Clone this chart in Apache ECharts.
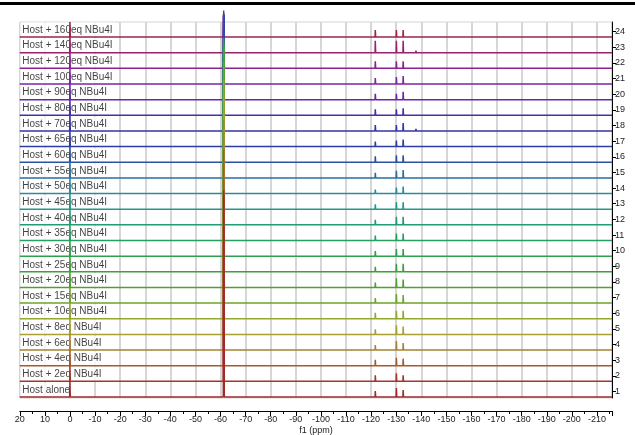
<!DOCTYPE html>
<html><head><meta charset="utf-8">
<script src="https://cdn.jsdelivr.net/npm/echarts@6/dist/echarts.min.js"></script>
<style>html,body{margin:0;padding:0;background:#fff}#c{width:635px;height:435px}</style>
</head><body><div id="c"></div>
<script>
// rows from bottom (1) to top (24)
const traceLabels = ['Host alone','Host + 2eq NBu4I','Host + 4eq NBu4I','Host + 6eq NBu4I','Host + 8eq NBu4I',
 'Host + 10eq NBu4I','Host + 15eq NBu4I','Host + 20eq NBu4I','Host + 25eq NBu4I','Host + 30eq NBu4I',
 'Host + 35eq NBu4I','Host + 40eq NBu4I','Host + 45eq NBu4I','Host + 50eq NBu4I','Host + 55eq NBu4I',
 'Host + 60eq NBu4I','Host + 65eq NBu4I','Host + 70eq NBu4I','Host + 80eq NBu4I','Host + 90eq NBu4I',
 'Host + 100eq NBu4I','Host + 120eq NBu4I','Host + 140eq NBu4I','Host + 160eq NBu4I'];
const stackTicks = [1,2,3,4,5,6,7,8,9,10,11,12,13,14,15,16,17,18,19,20,21,22,23,24];
const traceColors = ['#9e2a2b','#a3362a','#a65a2c','#a88232','#a8a032','#93a82c','#6ea428','#4ea030','#3ca03c','#2ea04c',
 '#26a060','#229c72','#229a8a','#2a8aa0','#2a6ea0','#2a52a2','#2c3ea4','#3434a8','#4a2ca8','#6428a8',
 '#7e26a2','#8c2290','#9a2070','#9c2450'];
// peak chemical shifts (ppm)
const shiftRef = 0;
const shiftA = -61.3;
const shiftB = -121.7;
const shiftC = -130.1;
const shiftD = -132.8;
const shiftE = -137.9;
// peak intensities, in units of trace spacing
const hRef = [1,1,1,1,1,1,1,1,1,1,1,1,1,1,1,1,1,1,1,1,1,1,1,0.96];
const hA = [13.2,11.9,13.8,14.7,15.2,15.3,15.4,15.3,14.9,13.7,12.5,11.5,10.5,9.5,8.5,9.7,8.4,7.4,6.4,5.4,4.4,3.4,2.5,1.5];
const hB = [0.38,0.38,0.38,0.32,0.32,0.38,0.32,0.32,0.32,0.32,0.32,0.32,0.32,0.26,0.32,0.38,0.32,0.38,0.38,0.38,0.38,0.45,0.77,0.45];
const hC = [0.58,0.51,0.51,0.58,0.58,0.51,0.58,0.58,0.51,0.45,0.45,0.51,0.45,0.38,0.45,0.45,0.38,0.38,0.38,0.38,0.45,0.45,0.77,0.45];
const hD = [0.45,0.38,0.45,0.45,0.51,0.51,0.51,0.51,0.51,0.45,0.45,0.51,0.45,0.45,0.51,0.45,0.45,0.51,0.45,0.51,0.51,0.45,0.77,0.45];
const hE = [0,0,0.1,0,0,0,0,0,0,0,0,0,0,0,0,0,0,0.13,0,0,0,0,0.13,0];

const X_MAX = 20, X_MIN = -216;
const BASE_SHIFT = 0.35; // baseline sits below its stack number

function peak(arr, c, h, b, w) {
  arr.push([c + w, b], [c + w/4, b + h], [c - w/4, b + h], [c - w, b]);
}

const series = [];
for (let k = 24; k >= 1; k--) {
  const i = k - 1;
  const b = k - BASE_SHIFT;
  const d = [[X_MAX, b]];
  peak(d, shiftRef, hRef[i], b, 0.12);
  peak(d, shiftA, hA[i], b, 0.2);
  peak(d, shiftB, hB[i], b, 0.12);
  peak(d, shiftC, hC[i], b, 0.12);
  peak(d, shiftD, hD[i], b, 0.12);
  if (hE[i] > 0) peak(d, shiftE, hE[i], b, 0.12);
  d.push([X_MIN, b]);
  series.push({
    type: 'line', data: d, showSymbol: false, symbol: 'none', clip: false, z: 3,
    lineStyle: { color: traceColors[i], width: 1.5 }, silent: true
  });
}
series.push({
  type: 'scatter', z: 1, clip: false, symbolSize: 1, itemStyle: { color: 'rgba(0,0,0,0)' }, silent: true,
  data: traceLabels.map((t, i) => ({ value: [X_MAX, (i + 1) - BASE_SHIFT + 0.45], name: t })),
  label: {
    show: true, position: 'right', distance: 0, formatter: p => p.name,
    fontFamily: 'Liberation Sans', fontSize: 10, color: '#111', lineHeight: 11,
    backgroundColor: '#fff', padding: [2, 3, 2, 2]
  }
});

const chart = echarts.init(document.getElementById('c'), null, { renderer: 'canvas' });
chart.setOption({
  animation: false,
  backgroundColor: '#fff',
  grid: { left: 19.8, right: 23, top: 22, bottom: 37, show: true, borderColor: '#d4d4d4', borderWidth: 1,
          containLabel: false, outerBoundsMode: 'none' },
  xAxis: {
    type: 'value', inverse: true, min: X_MIN, max: X_MAX, splitNumber: 24, offset: 13,
    name: 'f1 (ppm)', nameLocation: 'middle', nameGap: 15, nameMoveOverlap: false,
    nameTextStyle: { fontFamily: 'Liberation Sans', fontSize: 9, color: '#222', verticalAlign: 'top' },
    axisLine: { show: true, onZero: false, lineStyle: { color: '#000', width: 1 } },
    axisTick: { show: true, length: 5, lineStyle: { color: '#000' } },
    minorTick: { show: true, splitNumber: 2, length: 3, lineStyle: { color: '#000' } },
    axisLabel: { showMinLabel: false, fontFamily: 'Liberation Sans', fontSize: 9, color: '#222', margin: 4 },
    splitLine: { show: true, lineStyle: { color: '#d6d6d6', width: 2 } }
  },
  yAxis: {
    type: 'value', position: 'right', min: 0.65 - 1 / 15.65, max: 0.65 + 375 / 15.65, splitNumber: 24,
    axisLine: { show: true, onZero: false, lineStyle: { color: '#000', width: 1 } },
    axisTick: { show: true, length: 4, lineStyle: { color: '#000' }, customValues: stackTicks },
    axisLabel: { fontFamily: 'Liberation Sans', fontSize: 9, color: '#222', margin: 3, customValues: stackTicks },
    splitLine: { show: false }
  },
  graphic: [{ type: 'rect', left: 0, top: 2, shape: { width: 635, height: 3 }, style: { fill: '#000' }, z: 10 }],
  series: series
});
</script></body></html>
